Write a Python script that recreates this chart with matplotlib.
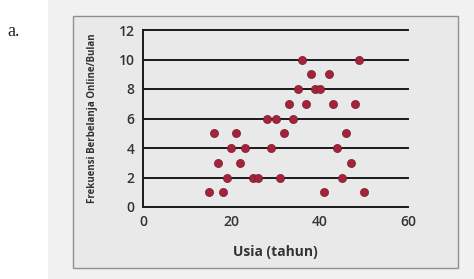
import matplotlib
matplotlib.use("Agg")
import matplotlib.pyplot as plt
from matplotlib.patches import Rectangle

# Data
usia = [15, 18, 19, 17, 16, 20, 21, 22, 23, 25, 26, 29, 28, 30, 31, 32, 33,
        34, 35, 36, 37, 38, 39, 40, 41, 42, 43, 44, 45, 46, 47, 48, 49, 50]
frekuensi = [1, 1, 2, 3, 5, 4, 5, 3, 4, 2, 2, 4, 6, 6, 2, 5, 7,
             6, 8, 10, 7, 9, 8, 8, 1, 9, 7, 4, 2, 5, 3, 7, 10, 1]
x_ticks = [0, 20, 40, 60]
y_ticks = [0, 2, 4, 6, 8, 10, 12]

plt.rcParams['font.family'] = ['Open Sans', 'DejaVu Sans']

fig = plt.figure(figsize=(4.74, 2.79), dpi=100)
fig.patch.set_facecolor('white')

# photo background and panel box
fig.patches.append(Rectangle((48/474, 0), (474-48)/474, 1,
                             transform=fig.transFigure, facecolor='#f1f1f1',
                             edgecolor='none', zorder=-6))
fig.patches.append(Rectangle((73/474, 1-268/279), (458-73)/474, (268-16)/279,
                             transform=fig.transFigure, facecolor='#e9e9e9',
                             edgecolor='#8f8f8f', linewidth=1.0, zorder=-5))
fig.text(7/474, 1-31/279, 'a.', family='Liberation Serif', fontsize=13,
         color='#222222', va='center', ha='left')

ax = fig.add_axes([143/474, 1-207/279, (408-143)/474, (207-30)/279])
ax.set_zorder(2)
ax.set_facecolor('none')
ax.set_xlim(0, 60)
ax.set_ylim(0, 12)

for v in y_ticks:
    ax.axhline(v, color='#1a1a1a', linewidth=1.4, zorder=1, clip_on=False)

ax.scatter(usia, frekuensi, s=34, color='#a3243a', edgecolors='#7a1a2a',
           linewidths=0.5, zorder=3, clip_on=False)

for s in ['top', 'right', 'bottom']:
    ax.spines[s].set_visible(False)
ax.spines['left'].set_color('#1a1a1a')
ax.spines['left'].set_linewidth(1.4)

ax.set_xticks(x_ticks)
ax.set_yticks(y_ticks)
ax.tick_params(length=0, labelsize=10, labelcolor='#333333', pad=6)
ax.tick_params(axis='x', pad=6)
for t in ax.get_xticklabels() + ax.get_yticklabels():
    t.set_fontweight('semibold')

ax.set_xlabel('Usia (tahun)', fontsize=10, fontweight='bold', color='#333333',
              labelpad=11)
ax.set_ylabel('Frekuensi Berbelanja Online/Bulan', fontsize=7,
              fontweight='bold', color='#333333', labelpad=15)

fig.savefig('out.png', dpi=100)
